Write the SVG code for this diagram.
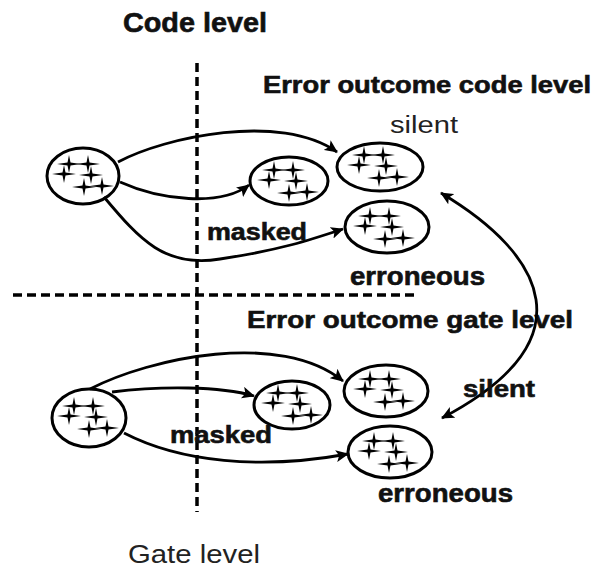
<svg xmlns="http://www.w3.org/2000/svg" xmlns:xlink="http://www.w3.org/1999/xlink" width="598" height="569" viewBox="0 0 598 569">
<style>
.bg{fill:#fff}
.node{fill:none;stroke:#000;stroke-width:3}
.edge{fill:none;stroke:#000;stroke-width:2.8}
.div{fill:none;stroke:#000;stroke-width:3.5;stroke-dasharray:9 5}
.b{font-family:"Liberation Sans",Arial,sans-serif;font-weight:bold;fill:#111;stroke:#111;stroke-width:0.6}
.r{font-family:"Liberation Sans",Arial,sans-serif;fill:#222}
</style>
<defs>
<marker id="ah" markerUnits="userSpaceOnUse" markerWidth="14" markerHeight="12" refX="12" refY="6" orient="auto-start-reverse">
<path d="M0,0 L13,6 L0,12 L3,6 Z" fill="#000"/>
</marker>
<path id="st" d="M0,-9 L1.5,-1.5 L12,0 L1.5,1.5 L0,9 L-1.5,1.5 L-12,0 L-1.5,-1.5 Z" fill="#000"/>
<g id="stars">
<use xlink:href="#st" x="-16" y="-11"/>
<use xlink:href="#st" x="3" y="-11"/>
<use xlink:href="#st" x="-21" y="-1"/>
<use xlink:href="#st" x="6" y="0"/>
<use xlink:href="#st" x="-1" y="12"/>
<use xlink:href="#st" x="17" y="11"/>
</g>
</defs>
<rect class="bg" width="598" height="569"/>
<g id="dividers">
<line class="div" x1="197" y1="63" x2="197" y2="512"/>
<line class="div" x1="13" y1="295" x2="417" y2="295"/>
</g>
<g id="labels">
<text class="b" x="123" y="32" font-size="27" textLength="144" lengthAdjust="spacingAndGlyphs">Code level</text>
<text class="b" x="263" y="93" font-size="24" textLength="328" lengthAdjust="spacingAndGlyphs">Error outcome code level</text>
<text class="r" x="390" y="133" font-size="23" textLength="68" lengthAdjust="spacingAndGlyphs">silent</text>
<text class="b" x="247" y="328" font-size="24" textLength="326" lengthAdjust="spacingAndGlyphs">Error outcome gate level</text>
<text class="r" x="128" y="563" font-size="25" textLength="132" lengthAdjust="spacingAndGlyphs">Gate level</text>
</g>
<g id="connectors">
<path class="edge" d="M118,162 C165,137 280,112 337,152" marker-end="url(#ah)"/>
<path class="edge" d="M120,182 C160,200 220,207 249,185" marker-end="url(#ah)"/>
<path class="edge" d="M104,197 C140,240 165,268 220,259 C280,250 310,240 343,229" marker-end="url(#ah)"/>
<path class="edge" d="M441,193 C545,255 590,340 442,418" marker-start="url(#ah)" marker-end="url(#ah)"/>
<path class="edge" d="M90,389 C150,358 280,330 343,381" marker-end="url(#ah)"/>
<path class="edge" d="M112,392 C160,386 220,386 254,396" marker-end="url(#ah)"/>
<path class="edge" d="M124,433 C180,462 260,470 348,454" marker-end="url(#ah)"/>
</g>
<g id="code-input">
<ellipse class="node" cx="83" cy="176" rx="36" ry="28"/>
<use xlink:href="#stars" x="85" y="175"/>
</g>
<g id="code-masked">
<ellipse class="node" cx="289" cy="181" rx="39" ry="24"/>
<use xlink:href="#stars" x="290" y="181"/>
<text class="b" x="207" y="240" font-size="23" textLength="100" lengthAdjust="spacingAndGlyphs">masked</text>
</g>
<g id="code-silent">
<ellipse class="node" cx="380" cy="167" rx="43" ry="24"/>
<use xlink:href="#stars" x="380" y="166"/>
</g>
<g id="code-erroneous">
<ellipse class="node" cx="387" cy="227" rx="42" ry="26"/>
<use xlink:href="#stars" x="386" y="227"/>
<text class="b" x="350" y="285" font-size="25" textLength="135" lengthAdjust="spacingAndGlyphs">erroneous</text>
</g>
<g id="gate-input">
<ellipse class="node" cx="89" cy="418" rx="37" ry="29"/>
<use xlink:href="#stars" x="90" y="417"/>
</g>
<g id="gate-masked">
<ellipse class="node" cx="292" cy="405" rx="38" ry="24"/>
<use xlink:href="#stars" x="294" y="404"/>
<text class="b" x="170" y="443" font-size="23" textLength="102" lengthAdjust="spacingAndGlyphs">masked</text>
</g>
<g id="gate-silent">
<ellipse class="node" cx="386" cy="391" rx="42" ry="26"/>
<use xlink:href="#stars" x="386" y="390"/>
<text class="b" x="463" y="397" font-size="23" textLength="72" lengthAdjust="spacingAndGlyphs">silent</text>
</g>
<g id="gate-erroneous">
<ellipse class="node" cx="390" cy="452" rx="42" ry="26"/>
<use xlink:href="#stars" x="390" y="452"/>
<text class="b" x="378" y="502" font-size="25" textLength="135" lengthAdjust="spacingAndGlyphs">erroneous</text>
</g>
</svg>
